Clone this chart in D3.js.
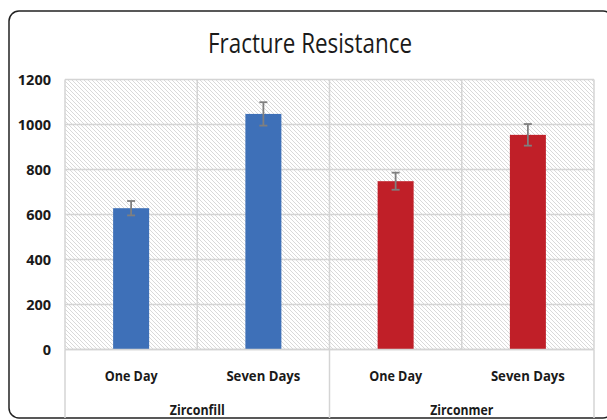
<!doctype html>
<html>
<head>
<meta charset="utf-8"/>
<script src="https://cdn.jsdelivr.net/npm/d3@7"></script>
<style>
body{margin:0;background:#fff;}
text{font-family:"Open Sans",sans-serif;fill:#1a1a1a;}
</style>
</head>
<body>
<script>
var width=607, height=420;
// chart data
var groups=["Zirconfill","Zirconmer"];
var periods=["One Day","Seven Days"];
var means=[628,1047,748,954];
var errors=[32,52,38,48];
var barColors=["#3e70b8","#3e70b8","#c01f28","#c01f28"];
var yTicks=[0,200,400,600,800,1000,1200];

var pLeft=65, pRight=594, pTop=79.5, pBottom=349.5;

var svg=d3.select("body").append("svg").attr("width",width).attr("height",height);

var defs=svg.append("defs");
var pat=defs.append("pattern").attr("id","hatch").attr("patternUnits","userSpaceOnUse")
  .attr("width",4).attr("height",4);
pat.append("rect").attr("width",4).attr("height",4).attr("fill","#fff");
pat.append("path").attr("d","M-1,-1L5,5M-1,3L1,5M3,-1L5,1")
  .attr("stroke","#d9d9d9").attr("stroke-width",1);

// frame
svg.append("rect").attr("x",9).attr("y",11).attr("width",604).attr("height",407)
  .attr("rx",10).attr("fill","none").attr("stroke","#222").attr("stroke-width",1.5);

svg.append("text").attr("x",310).attr("y",53).attr("text-anchor","middle")
  .attr("font-size",28).attr("textLength",204).attr("lengthAdjust","spacingAndGlyphs")
  .text("Fracture Resistance");

var cats=[];
groups.forEach(function(g){periods.forEach(function(p){cats.push(g+"|"+p);});});

var x=d3.scaleBand().domain(cats).range([pLeft,pRight]).paddingInner(0).paddingOuter(0);
var y=d3.scaleLinear().domain([0,1200]).range([pBottom,pTop]);

svg.append("rect").attr("x",pLeft).attr("y",pTop).attr("width",pRight-pLeft).attr("height",pBottom-pTop)
  .attr("fill","url(#hatch)");

// gridlines
svg.append("g").selectAll("line").data(yTicks).enter().append("line")
  .attr("x1",pLeft).attr("x2",pRight).attr("y1",function(d){return y(d);}).attr("y2",function(d){return y(d);})
  .attr("stroke","#d4d4d4").attr("stroke-width",1.5);
svg.append("g").selectAll("line").data(cats.slice(1)).enter().append("line")
  .attr("x1",function(d){return x(d);}).attr("x2",function(d){return x(d);})
  .attr("y1",pTop).attr("y2",pBottom).attr("stroke","#d4d4d4").attr("stroke-width",1.5);
svg.append("line").attr("x1",pLeft).attr("x2",pLeft).attr("y1",pTop).attr("y2",pBottom)
  .attr("stroke","#d4d4d4").attr("stroke-width",1.5);
svg.append("line").attr("x1",pRight).attr("x2",pRight).attr("y1",pTop).attr("y2",pBottom)
  .attr("stroke","#d4d4d4").attr("stroke-width",1.5);

// y axis labels
var yAxis=d3.axisLeft(y).tickValues(yTicks).tickFormat(d3.format("d")).tickSize(0).tickPadding(14);
var ya=svg.append("g").attr("transform","translate("+pLeft+",0)").call(yAxis);
ya.select(".domain").remove();
ya.selectAll("text").attr("font-size",14.5).attr("font-weight","bold")
  .style("font-family","Open Sans").attr("fill","#111");

// bars
var bw=36;
svg.append("g").selectAll("rect").data(means).enter().append("rect")
  .attr("x",function(d,i){return x(cats[i])+x.bandwidth()/2-bw/2;})
  .attr("y",function(d){return y(d);}).attr("width",bw)
  .attr("height",function(d){return pBottom-y(d);})
  .attr("fill",function(d,i){return barColors[i];});

// error bars
var eb=svg.append("g").attr("stroke","#7f7f7f").attr("stroke-width",1.8);
means.forEach(function(m,i){
  var cx=x(cats[i])+x.bandwidth()/2;
  eb.append("line").attr("x1",cx).attr("x2",cx).attr("y1",y(m+errors[i])).attr("y2",y(m-errors[i]));
  eb.append("line").attr("x1",cx-4).attr("x2",cx+4).attr("y1",y(m+errors[i])).attr("y2",y(m+errors[i]));
  eb.append("line").attr("x1",cx-4).attr("x2",cx+4).attr("y1",y(m-errors[i])).attr("y2",y(m-errors[i]));
});

// category axis
svg.append("line").attr("x1",pLeft).attr("x2",pRight).attr("y1",pBottom).attr("y2",pBottom)
  .attr("stroke","#d4d4d4").attr("stroke-width",1.5);
[pLeft,x(cats[2]),pRight].forEach(function(px){
  svg.append("line").attr("x1",px).attr("x2",px).attr("y1",pBottom).attr("y2",418)
    .attr("stroke","#d4d4d4").attr("stroke-width",1.5);
});
svg.append("g").selectAll("text").data(cats).enter().append("text")
  .attr("x",function(d){return x(d)+x.bandwidth()/2;}).attr("y",381)
  .attr("text-anchor","middle").attr("font-size",15).attr("font-weight","bold")
  .attr("textLength",function(d){return d.split("|")[1]=="One Day"?53:74;})
  .attr("lengthAdjust","spacingAndGlyphs")
  .text(function(d){return d.split("|")[1];});
svg.append("g").selectAll("text").data(groups).enter().append("text")
  .attr("x",function(d,i){return x(cats[i*2])+x.bandwidth();}).attr("y",415)
  .attr("text-anchor","middle").attr("font-size",15).attr("font-weight","bold")
  .attr("textLength",function(d){return d=="Zirconfill"?55:63;})
  .attr("lengthAdjust","spacingAndGlyphs")
  .text(function(d){return d;});
</script>
</body>
</html>
